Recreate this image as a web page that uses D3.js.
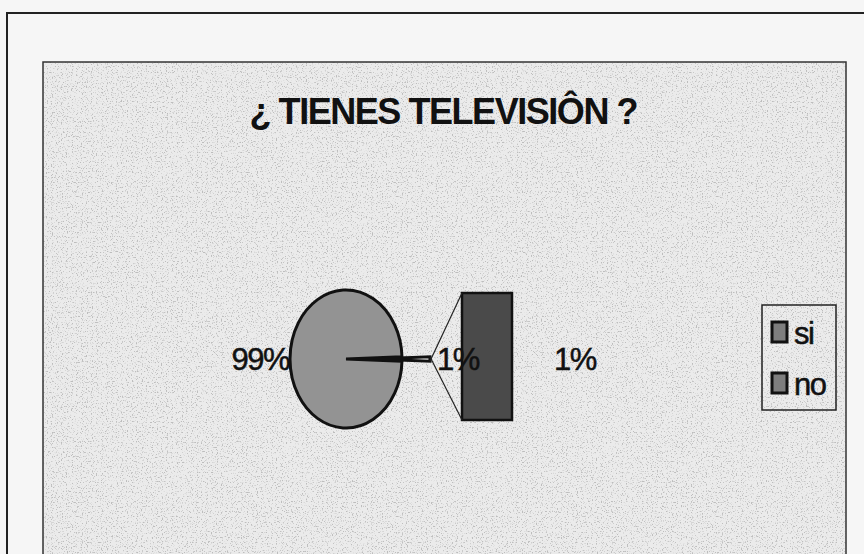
<!DOCTYPE html>
<html>
<head>
<meta charset="utf-8">
<script src="https://cdn.jsdelivr.net/npm/d3@7"></script>
<style>
  body { margin: 0; background: #f6f6f6; }
  text { font-family: "Liberation Sans", Arial, sans-serif; fill: #111; }
</style>
</head>
<body>
<div id="chart"></div>
<script>
var width = 864,
    height = 554;

// data
var titleText = "¿ TIENES TELEVISIÔN ?";
var categories = ["si", "no"];
var values = [99, 1];
var barCategories = ["no"];
var barValues = [1];

var total = d3.sum(values);
var pct = function(v) { return Math.round(v / total * 100) + "%"; };

var svg = d3.select("#chart")
  .append("svg")
  .attr("width", width)
  .attr("height", height);

// speckle texture (scanned paper look)
var defs = svg.append("defs");
var speck = defs.append("filter").attr("id", "speck")
  .attr("x", 0).attr("y", 0).attr("width", 1).attr("height", 1);
speck.append("feTurbulence").attr("type", "fractalNoise")
  .attr("baseFrequency", 0.8).attr("numOctaves", 1).attr("seed", 7);
speck.append("feColorMatrix").attr("type", "matrix")
  .attr("values", "0 0 0 0 0.35  0 0 0 0 0.35  0 0 0 0 0.35  7 0 0 0 -3.9");

svg.append("rect").attr("width", width).attr("height", height).attr("fill", "#f6f6f6");

// outer frame
svg.append("path")
  .attr("d", "M7," + height + "V13H" + width)
  .attr("fill", "none").attr("stroke", "#222").attr("stroke-width", 2);

// chart area
var area = { x: 43, y: 62, w: 803, h: 520 };
svg.append("rect")
  .attr("x", area.x).attr("y", area.y).attr("width", area.w).attr("height", area.h)
  .attr("fill", "#ebebeb");
svg.append("rect")
  .attr("x", area.x).attr("y", area.y).attr("width", area.w).attr("height", area.h)
  .attr("filter", "url(#speck)").attr("opacity", 0.6);
svg.append("rect")
  .attr("x", area.x).attr("y", area.y).attr("width", area.w).attr("height", area.h)
  .attr("fill", "none").attr("stroke", "#333").attr("stroke-width", 1.5);

// title
svg.append("text")
  .attr("x", 443).attr("y", 124)
  .attr("text-anchor", "middle")
  .attr("font-size", 36).attr("font-weight", "bold")
  .attr("letter-spacing", -2)
  .attr("textLength", 387).attr("lengthAdjust", "spacing")
  .text(titleText);

// pie (elliptical)
var cx = 346, cy = 359, rx = 56, ry = 69, explode = 28;
var k = ry / rx;
var fills = { si: "#939393", no: "#fafafa" };

var half = Math.PI * values[1] / total;
var pie = d3.pie().sort(null).value(function(d) { return d; })
  .startAngle(Math.PI / 2 + half)
  .endAngle(Math.PI / 2 + half + 2 * Math.PI);
var arcs = pie(values);
var arc = d3.arc().innerRadius(0).outerRadius(rx);

var pieG = svg.append("g").attr("transform", "translate(" + cx + "," + cy + ") scale(1," + k + ")");
pieG.selectAll("path")
  .data(arcs)
  .enter()
  .append("path")
  .attr("d", arc)
  .attr("transform", function(d, i) {
    if (categories[i] !== "no") return null;
    var m = (d.startAngle + d.endAngle) / 2;
    return "translate(" + (Math.sin(m) * explode) + "," + (-Math.cos(m) * explode) + ")";
  })
  .attr("fill", function(d, i) { return fills[categories[i]]; })
  .attr("stroke", "#111")
  .attr("stroke-width", 3)
  .attr("vector-effect", "non-scaling-stroke");

// bar (breakdown of the exploded slice)
var barX = 462, barW = 50;
var y = d3.scaleLinear().domain([0, d3.sum(barValues)]).range([420, 293]);
var stacked = d3.cumsum(barValues);
svg.selectAll(".bar")
  .data(barValues)
  .enter()
  .append("rect")
  .attr("class", "bar")
  .attr("x", barX)
  .attr("y", function(d, i) { return y(stacked[i]); })
  .attr("width", barW)
  .attr("height", function(d) { return y(0) - y(d); })
  .attr("fill", "#4a4a4a")
  .attr("stroke", "#111")
  .attr("stroke-width", 2.5);

// connector lines from slice edge to bar
var noArc = arcs[categories.indexOf("no")];
var mid = (noArc.startAngle + noArc.endAngle) / 2;
var edge = function(a) {
  return [cx + Math.sin(mid) * explode + rx * Math.sin(a), cy + k * (-Math.cos(mid) * explode - rx * Math.cos(a))];
};
var pTop = edge(noArc.endAngle), pBot = edge(noArc.startAngle);
svg.append("line").attr("x1", pTop[0]).attr("y1", pTop[1]).attr("x2", barX).attr("y2", y(d3.sum(barValues)))
  .attr("stroke", "#222").attr("stroke-width", 1.2);
svg.append("line").attr("x1", pBot[0]).attr("y1", pBot[1]).attr("x2", barX).attr("y2", y(0))
  .attr("stroke", "#222").attr("stroke-width", 1.2);

// data labels
var labelSize = 31;
var label = function(x, anchor, txt) {
  svg.append("text").attr("x", x).attr("y", 370).attr("text-anchor", anchor)
    .attr("font-size", labelSize).attr("letter-spacing", -1.5)
    .attr("stroke", "#111").attr("stroke-width", 0.5)
    .text(txt);
};
label(289, "end", pct(values[0]));
label(437, "start", pct(values[1]));
label(575, "middle", pct(barValues[0]));

// legend
var legend = svg.append("g");
legend.append("rect").attr("x", 762).attr("y", 305).attr("width", 74).attr("height", 105)
  .attr("fill", "none").attr("stroke", "#222").attr("stroke-width", 1.5);
var items = legend.selectAll(".item")
  .data(categories)
  .enter()
  .append("g")
  .attr("class", "item")
  .attr("transform", function(d, i) { return "translate(772," + (322 + i * 51) + ")"; });
items.append("rect")
  .attr("width", 15).attr("height", 20)
  .attr("fill", "#7e7e7e").attr("stroke", "#111").attr("stroke-width", 3);
items.append("text")
  .attr("x", 22).attr("y", 22)
  .attr("font-size", 31).attr("letter-spacing", -1.5)
  .attr("stroke", "#111").attr("stroke-width", 0.5)
  .text(function(d) { return d; });
</script>
</body>
</html>
